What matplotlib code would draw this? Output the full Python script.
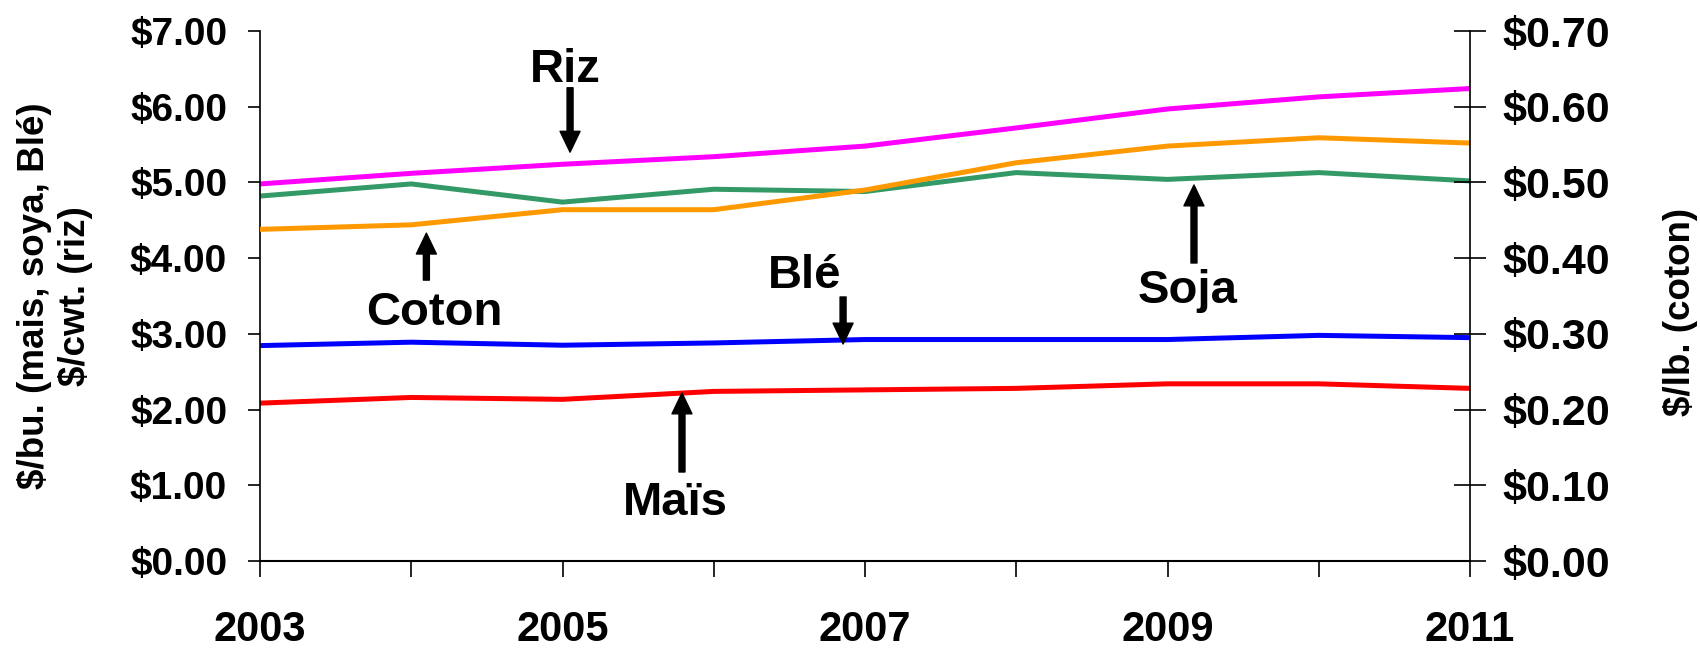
import matplotlib.pyplot as plt
from matplotlib.ticker import FuncFormatter

plt.rcParams['font.family'] = ['Liberation Sans', 'DejaVu Sans']
plt.rcParams['font.weight'] = 'bold'

# donnees
annees = [2003, 2004, 2005, 2006, 2007, 2008, 2009, 2010, 2011]
riz = [4.98, 5.12, 5.24, 5.34, 5.48, 5.72, 5.97, 6.13, 6.24]
soja = [4.82, 4.98, 4.74, 4.91, 4.88, 5.13, 5.04, 5.13, 5.02]
ble = [2.845, 2.89, 2.85, 2.88, 2.925, 2.925, 2.925, 2.98, 2.95]
mais = [2.085, 2.16, 2.135, 2.24, 2.26, 2.28, 2.34, 2.34, 2.28]
coton = [0.438, 0.444, 0.464, 0.464, 0.490, 0.526, 0.548, 0.559, 0.552]

etiquettes_annees = ['2003', '', '2005', '', '2007', '', '2009', '', '2011']

fig = plt.figure(figsize=(17, 6.5), dpi=100)
ax = fig.add_axes([260/1700, 1-561/650, 1210/1700, 530/650])
ax2 = ax.twinx()

lw = 3.6
ax.plot(annees, riz, color='#FF00FF', lw=lw)
ax.plot(annees, soja, color='#339966', lw=lw)
ax.plot(annees, ble, color='#0000FF', lw=lw)
ax.plot(annees, mais, color='#FF0000', lw=lw)
ax2.plot(annees, coton, color='#FF9900', lw=lw)

ax.set_xlim(2003, 2011)
ax.set_ylim(0, 7)
ax2.set_ylim(0, 0.7)

ax.set_xticks(annees)
ax.set_xticklabels(etiquettes_annees)
ax.set_yticks(range(0, 8))
ax.yaxis.set_major_formatter(FuncFormatter(lambda v, p: f'${v:.2f}'))
ax2.set_yticks([i / 10 for i in range(0, 8)])
ax2.yaxis.set_major_formatter(FuncFormatter(lambda v, p: f'${v:.2f}'))

for s in ['top', 'right']:
    ax.spines[s].set_visible(False)
for s in ['top', 'left', 'bottom']:
    ax2.spines[s].set_visible(False)
ax.spines['left'].set_linewidth(1.2)
ax.spines['bottom'].set_linewidth(1.5)
ax2.spines['right'].set_linewidth(1.2)

ax.tick_params(axis='x', direction='out', length=11.5, width=1.2, pad=24, labelsize=30)
ax.tick_params(axis='y', direction='out', length=8.6, width=1.2, pad=15, labelsize=28)
ax2.tick_params(axis='y', direction='inout', length=23, width=1.2, pad=12, labelsize=31)

ax.text(-0.1694, 0.5, '$/bu. (mais, soya, Blé)\n$/cwt. (riz)', transform=ax.transAxes,
        rotation=90, ha='center', va='center', fontsize=26.5, fontweight='bold',
        linespacing=1.2)
ax.text(1.1736, 0.47, '$/lb. (coton)', transform=ax.transAxes,
        rotation=90, ha='center', va='center', fontsize=26.5, fontweight='bold')

# etiquettes et fleches
fleche = dict(facecolor='black', edgecolor='black', width=4.3, headwidth=14.4,
              headlength=15, shrink=0)
taille = 34
etiquettes = [
    ('Riz', 2005.02, 6.33, 2005.05, 6.25, 5.40),
    ('Coton', 2004.15, 3.117, 2004.10, 3.71, 4.33),
    ('Blé', 2006.60, 3.606, 2006.855, 3.487, 2.866),
    ('Soja', 2009.13, 3.408, 2009.175, 3.936, 4.966),
    ('Maïs', 2005.744, 0.6076, 2005.79, 1.1755, 2.219),
]
for nom, tx, ty, fx, fy0, fy1 in etiquettes:
    ax.text(tx, ty, nom, ha='center', va='baseline', fontsize=taille, fontweight='bold')
    ax.annotate('', xy=(fx, fy1), xytext=(fx, fy0), arrowprops=fleche)

fig.savefig('out.png', dpi=100)
